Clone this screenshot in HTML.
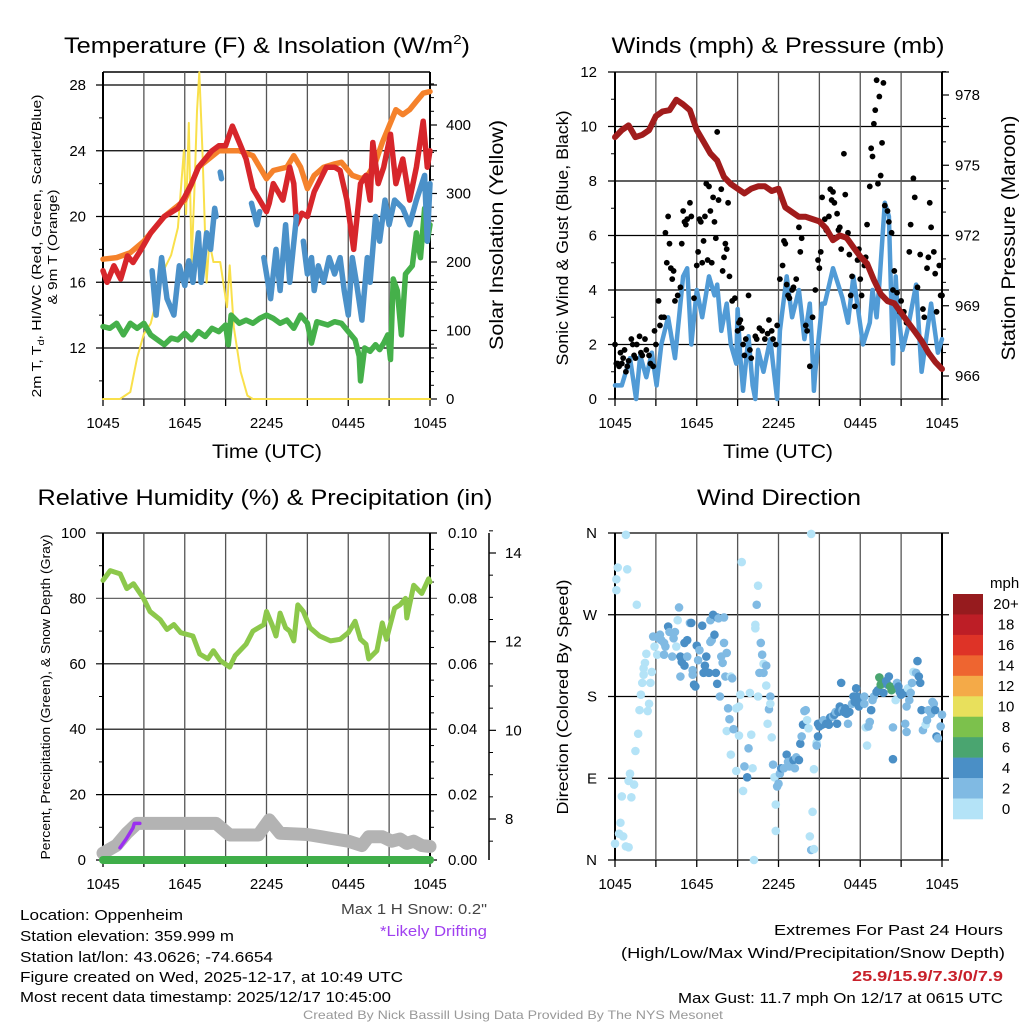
<!DOCTYPE html>
<html><head><meta charset="utf-8"><style>
html,body{margin:0;padding:0;background:#fff;}
svg{display:block;font-family:"Liberation Sans",Arial,sans-serif;}
</style></head><body>
<svg id="fig" width="1024" height="1024" viewBox="0 0 1024 1024" xmlns="http://www.w3.org/2000/svg">
<rect x="0" y="0" width="1024" height="1024" fill="#fff"/>
<g id="tl"></g>
<g id="tr"></g>
<g id="bl"></g>
<g id="br"></g>
<g id="txt">
<text x="267" y="53" font-size="22" text-anchor="middle" textLength="406" lengthAdjust="spacingAndGlyphs">Temperature (F) &amp; Insolation (W/m<tspan font-size="13" dy="-9">2</tspan><tspan dy="9">)</tspan></text>
<text x="778" y="53" font-size="22" text-anchor="middle" textLength="333" lengthAdjust="spacingAndGlyphs">Winds (mph) &amp; Pressure (mb)</text>
<text x="265" y="505" font-size="22" text-anchor="middle" textLength="455" lengthAdjust="spacingAndGlyphs">Relative Humidity (%) &amp; Precipitation (in)</text>
<text x="779" y="505" font-size="22" text-anchor="middle" textLength="164" lengthAdjust="spacingAndGlyphs">Wind Direction</text>
<text x="267" y="458" font-size="19" text-anchor="middle" textLength="110" lengthAdjust="spacingAndGlyphs">Time (UTC)</text>
<text x="778" y="458" font-size="19" text-anchor="middle" textLength="110" lengthAdjust="spacingAndGlyphs">Time (UTC)</text>
<text transform="translate(41,246) rotate(-90)" font-size="13" text-anchor="middle" textLength="303" lengthAdjust="spacingAndGlyphs">2m T, T<tspan font-size="9" dy="3">d</tspan><tspan dy="-3">, HI/WC (Red, Green, Scarlet/Blue)</tspan></text>
<text transform="translate(57,247) rotate(-90)" font-size="13" text-anchor="middle" textLength="115" lengthAdjust="spacingAndGlyphs">&amp; 9m T (Orange)</text>
<text transform="translate(503,235) rotate(-90)" font-size="19" text-anchor="middle" textLength="230" lengthAdjust="spacingAndGlyphs">Solar Insolation (Yellow)</text>
<text transform="translate(568,238) rotate(-90)" font-size="17" text-anchor="middle" textLength="255" lengthAdjust="spacingAndGlyphs">Sonic Wind &amp; Gust (Blue, Black)</text>
<text transform="translate(1015,238) rotate(-90)" font-size="19" text-anchor="middle" textLength="245" lengthAdjust="spacingAndGlyphs">Station Pressure (Maroon)</text>
<text transform="translate(50,697) rotate(-90)" font-size="13" text-anchor="middle" textLength="325" lengthAdjust="spacingAndGlyphs">Percent, Precipitation (Green), &amp; Snow Depth (Gray)</text>
<text transform="translate(568,697) rotate(-90)" font-size="16" text-anchor="middle" textLength="235" lengthAdjust="spacingAndGlyphs">Direction (Colored By Speed)</text>
<g font-size="15">
<text x="20" y="920" textLength="163" lengthAdjust="spacingAndGlyphs">Location: Oppenheim</text>
<text x="20" y="941" textLength="214" lengthAdjust="spacingAndGlyphs">Station elevation: 359.999 m</text>
<text x="20" y="962" textLength="253" lengthAdjust="spacingAndGlyphs">Station lat/lon: 43.0626; -74.6654</text>
<text x="20" y="982" textLength="383" lengthAdjust="spacingAndGlyphs">Figure created on Wed, 2025-12-17, at 10:49 UTC</text>
<text x="20" y="1002" textLength="371" lengthAdjust="spacingAndGlyphs">Most recent data timestamp: 2025/12/17 10:45:00</text>
</g>
<text x="341" y="914" font-size="15" fill="#444" textLength="146" lengthAdjust="spacingAndGlyphs">Max 1 H Snow: 0.2"</text>
<text x="380" y="936" font-size="15" fill="#a040f0" textLength="107" lengthAdjust="spacingAndGlyphs">*Likely Drifting</text>
<text x="1003" y="935" font-size="15" text-anchor="end" textLength="229" lengthAdjust="spacingAndGlyphs">Extremes For Past 24 Hours</text>
<text x="1005" y="958" font-size="15" text-anchor="end" textLength="384" lengthAdjust="spacingAndGlyphs">(High/Low/Max Wind/Precipitation/Snow Depth)</text>
<text x="1003" y="981" font-size="15" font-weight="bold" fill="#c8202a" text-anchor="end" textLength="151" lengthAdjust="spacingAndGlyphs">25.9/15.9/7.3/0/7.9</text>
<text x="1003" y="1003" font-size="15" text-anchor="end" textLength="325" lengthAdjust="spacingAndGlyphs">Max Gust: 11.7 mph On 12/17 at 0615 UTC</text>
<text x="513" y="1019" font-size="12" fill="#999" text-anchor="middle" textLength="420" lengthAdjust="spacingAndGlyphs">Created By Nick Bassill Using Data Provided By The NYS Mesonet</text>
</g>
</svg>
<script>
// ---------- data ----------
const timeTickLabels = ["1045","1645","2245","0445","1045"];
const timeTickHours = [0,6,12,18,24];
// Temperature panel
const redHours = [0,0.3,0.8,1.3,1.8,2.2,2.8,3.5,4.5,5.5,6,6.5,7,7.5,8,8.5,9,9.5,10,10.5,11,11.5,12,12.2,12.5,13.2,13.7,14.0,14.2,14.6,15.0,15.5,16.4,17.0,17.4,17.9,18.4,18.9,19.3,19.6,19.8,20.2,20.6,21.1,21.5,22.0,22.5,23.0,23.5,23.8,24];
const redTemp = [16.7,16.0,17.0,16.2,17.6,17.2,18.0,19.0,20.0,20.5,21.2,22.0,23.0,23.5,24.0,24.3,24.3,25.5,24.5,23.5,21.7,21.0,20.3,20.8,22.0,21.0,23.0,22.0,19.5,20.2,20.0,21.5,23.0,23.0,22.8,21.0,18.0,22.0,22.5,21.0,24.5,22.0,23.0,25.0,22.0,23.5,21.0,23.0,25.8,23.0,24.0];
const orangeHours = [0,1,2,3,4.5,6,7,8.5,10,11,12,12.5,13.5,14,14.5,15,15.5,16.2,17,17.5,18.3,19,19.5,20,20.5,21,21.5,22,22.5,23,23.5,24];
const orangeTemp = [17.4,17.5,17.8,18.5,20.0,21.0,23.0,24.0,24.0,23.7,22.3,22.8,23.0,23.7,23.0,21.7,22.5,23.0,23.2,23.3,22.5,22.3,22.6,23.3,24.5,25.5,26.5,26.2,26.5,27.0,27.5,27.6];
const blueHours = [3.6,3.9,4.3,4.7,5.2,5.6,6.0,6.3,6.6,7.0,7.2,7.6,7.9,8.2,8.3,null,8.6,8.7,null,10.9,11.3,11.5,null,11.8,12.3,12.7,13.0,13.4,13.7,14.2,null,14.7,15.0,15.3,15.5,15.8,16.2,16.6,17.0,17.4,17.7,18.0,18.3,18.6,19.0,19.4,19.6,20.0,20.3,20.7,21.0,21.4,22.0,22.5,23.0,23.6,23.8,24.0];
const blueTemp = [16.7,14.0,17.5,15.0,14.0,17.0,15.8,17.3,16.0,19.0,16.0,19.0,18.0,20.5,20.0,null,22.7,22.3,null,20.8,19.5,20.3,null,17.5,15.0,18.0,15.5,19.5,16.0,20.0,null,18.5,16.5,17.5,15.5,17.0,16.0,17.5,16.5,17.5,15.5,14.0,17.5,16.0,13.7,17.5,16.0,20.0,18.5,21.0,19.5,21.0,20.5,19.5,21.0,22.5,18.5,22.0];
const greenHours = [0,0.5,1,1.5,2,2.5,3,3.5,4,4.5,5,5.5,6,6.5,7,7.5,8,8.5,9,9.2,9.4,10,10.5,11,11.5,12,12.5,13,13.5,14,14.5,15,15.3,15.7,16.5,17,17.5,18,18.5,18.8,18.9,19.2,19.6,20,20.3,20.6,20.9,21.1,21.3,21.6,21.9,22.2,22.7,23,23.3,23.6,23.8,24];
const greenTemp = [13.3,13.2,13.5,12.8,13.5,13.2,13.5,12.8,12.5,12.2,12.6,12.5,12.9,12.5,13.0,12.7,13.2,13.0,13.4,12.2,14.0,13.5,13.7,13.5,13.8,14.0,13.8,13.5,13.7,13.2,14.0,13.5,12.3,13.6,13.4,13.6,13.5,13.0,12.5,11.5,10.0,12.0,11.8,12.2,11.9,12.3,12.8,11.3,16.2,15.5,12.8,16.5,17.0,19.0,17.5,20.5,18.5,19.5];
const solarHours = [0,1.25,2,2.5,3,3.5,4,4.5,5,5.5,5.94,6.1,6.3,6.5,6.7,6.9,7.07,7.3,7.6,7.8,8.1,8.6,9.1,9.3,9.6,10.1,10.6,11,24];
const solarVals = [0,0,10,60,95,110,150,190,210,250,363,270,403,200,300,420,477,360,170,230,200,200,134,195,105,40,5,0,0];
const tempTicks = [12,16,20,24,28];
const solarTicks = [0,100,200,300,400];
// Wind panel
const pressHours = [0,0.5,1,1.5,2,2.5,3,3.5,4,4.5,5,5.5,6,6.5,7,7.5,8,8.5,9,9.5,10,10.5,11,11.5,12,12.5,13,13.5,14,14.5,15,15.5,16,16.5,17,17.5,18,18.5,19,19.5,20,20.5,21,21.5,22,22.5,23,23.5,24];
const pressVals = [976.2,976.5,976.7,976.2,976.3,976.5,977.1,977.3,977.35,977.8,977.6,977.35,976.5,976.0,975.5,975.2,974.5,974.2,974.0,973.8,974.0,974.1,974.1,973.9,974.0,973.2,973.0,972.8,972.8,972.7,972.6,972.3,971.8,972.0,971.9,971.5,971.1,970.8,970.1,969.5,969.2,969.1,968.7,968.3,967.9,967.5,967.0,966.6,966.3];
const windHours = [0,0.5,1.1,1.55,1.85,2.3,2.7,3.05,3.4,3.9,4.4,4.8,5.0,5.3,5.6,6.0,6.4,6.9,7.3,7.5,7.8,8.2,8.5,8.9,9.0,9.2,9.4,9.8,10.1,10.3,10.5,10.9,11.4,11.6,11.9,12.1,12.6,13.0,13.5,13.9,14.3,14.5,14.6,14.7,15.2,15.4,16.0,16.7,17.1,17.5,18.2,18.7,18.9,19.2,19.4,19.8,20.1,20.4,20.6,20.7,21.1,21.5,22.1,22.5,23.2,23.7,24];
const windVals = [0.5,0.5,1.5,0.0,1.6,0.8,1.7,0.5,2.0,3.0,1.5,3.5,4.5,4.8,2.0,4.0,3.0,4.5,3.8,4.2,2.5,3.5,2.0,1.3,3.3,1.5,0.3,2.3,0.5,0.0,1.8,1.0,2.2,1.3,0.0,2.5,4.5,3.0,4.0,2.2,3.5,1.5,0.3,1.0,3.5,3.5,4.8,3.7,2.8,4.5,2.0,2.8,4.0,3.0,4.2,7.2,6.7,1.3,4.5,3.6,1.8,2.6,4.2,1.0,3.5,1.7,2.2];
const gustHours = [0,0.1,0.2,0.3,0.4,0.5,0.6,0.7,0.8,0.9,1.0,1.2,1.3,1.4,1.5,1.6,1.8,1.9,2.0,2.2,2.3,2.5,2.6,2.8,2.9,3.0,3.2,3.3,3.4,3.6,3.7,3.8,3.9,4.0,4.1,4.2,4.3,4.4,4.6,4.8,4.9,5.0,5.1,5.2,5.3,5.5,5.6,5.8,6.0,6.1,6.2,6.3,6.4,6.5,6.6,6.7,6.8,6.9,7.0,7.1,7.2,7.3,7.4,7.5,7.6,7.8,7.9,8.0,8.1,8.2,8.3,8.4,8.6,8.8,9.0,9.1,9.2,9.3,9.4,9.5,9.6,9.8,9.9,10.0,10.3,10.4,10.6,10.8,11.0,11.2,11.3,11.5,11.6,11.8,11.9,12.1,12.3,12.4,12.5,12.6,12.7,12.8,13.0,13.1,13.3,13.5,13.6,13.7,14.0,14.1,14.3,14.5,14.7,14.9,15.0,15.1,15.2,15.4,15.5,15.7,15.8,15.9,16.0,16.1,16.3,16.4,16.5,16.6,16.8,16.9,17.0,17.1,17.2,17.3,17.4,17.6,17.8,17.9,18.0,18.1,18.3,18.4,18.5,18.7,18.8,18.9,19.0,19.1,19.2,19.3,19.4,19.5,19.6,19.7,19.8,20.0,20.1,20.3,20.4,20.5,20.7,20.9,21.0,21.2,21.4,21.6,21.7,21.9,22.0,22.2,22.4,22.6,22.7,22.9,23.0,23.1,23.2,23.4,23.5,23.6,23.8,23.9,24.0];
const gustVals = [2.0,1.3,1.3,1.2,1.7,1.3,1.5,1.8,1.0,1.2,1.4,2.2,2.0,1.6,1.5,2.0,2.3,1.7,1.6,2.2,1.8,1.6,1.3,1.2,2.5,2.0,3.6,2.7,3.0,3.0,6.1,5.0,6.7,5.7,4.8,4.4,4.7,3.6,3.8,4.1,5.7,6.9,6.5,6.4,6.6,7.2,6.7,3.7,4.9,5.4,6.6,6.5,5.0,5.8,6.7,7.9,5.1,7.8,6.9,5.0,7.4,6.5,5.9,9.8,7.3,7.7,4.7,5.2,5.7,5.5,7.2,4.5,3.6,3.7,2.5,2.8,2.9,2.6,2.0,1.6,2.2,3.8,1.8,1.5,2.3,2.2,2.6,2.5,2.2,2.4,2.9,2.5,2.2,2.0,2.7,4.4,4.9,5.8,5.7,4.2,3.8,3.7,4.0,4.1,4.4,6.3,5.4,5.9,2.7,2.5,1.2,3.0,4.0,5.1,4.8,5.4,7.4,6.6,6.2,6.7,7.7,7.3,7.6,7.2,6.8,6.2,6.3,5.5,9.0,7.5,5.9,6.1,5.3,3.8,4.5,3.4,5.1,5.5,4.4,3.8,4.9,5.2,6.4,7.8,9.2,8.9,10.1,10.6,11.7,7.9,11.1,8.2,9.4,11.6,7.1,6.9,6.5,6.1,4.0,4.7,3.9,3.2,3.6,3.2,2.8,5.4,6.4,8.1,7.4,4.1,5.3,3.3,3.0,4.8,5.2,7.2,6.3,5.4,4.6,3.2,4.9,3.8,3.8];
const windTicks = [0,2,4,6,8,10,12];
const pressTicks = [966,969,972,975,978];
// Humidity panel
const rhHours = [0,0.53,1.26,1.75,2.24,2.97,3.45,4.2,4.7,5.2,5.7,6.6,7.1,7.7,8.1,8.6,9.3,9.7,10.5,11.0,11.8,12.0,12.4,12.7,13.0,13.4,13.7,14.0,14.3,14.7,15.2,15.9,16.7,17.4,18.0,18.5,18.9,19.3,19.5,20.1,20.5,20.8,21.4,21.8,22.2,22.3,22.8,23.4,23.9,24];
const rhVals = [85.5,88.5,87.5,83,84.5,80,76,73.5,70.5,72,69.5,68.5,63,61.5,64,61,59,62.5,66,70,72,76,72,68.5,75.5,71,70,67,78,76,71,68.5,67,67.5,69.5,73,67.5,66,61.5,64,72.5,67.5,77,78,80,74,84,81.5,86,85];
const snowHours = [0,1.0,1.75,2.5,8.3,9.3,11.4,12.2,13.0,15,16,17,18,19,19.5,20.5,21.2,21.8,22.3,22.8,23.4,24];
const snowVals = [7.23,7.41,7.68,7.9,7.9,7.64,7.64,7.98,7.68,7.65,7.6,7.55,7.5,7.4,7.6,7.6,7.5,7.55,7.45,7.5,7.4,7.38];
const driftHours = [1.25,1.7,2.2,2.3,2.7];
const driftVals = [7.35,7.55,7.8,7.9,7.9];
const precipHours = [0,24];
const precipVals = [0,0];
const rhTicks = [0,20,40,60,80,100];
const precipTickLabels = ["0.00","0.02","0.04","0.06","0.08","0.10"];
const snowTicks = [8,10,12,14];
// Wind direction panel
const dirLabels = ["N","E","S","W","N"];
const dirTicks = [0,90,180,270,360];
const wdHours = [0,0.1,0.1,0.2,0.3,0.4,0.5,0.6,0.8,0.9,0.8,1.0,1.0,1.1,1.2,1.4,1.5,1.6,1.7,1.8,1.9,2.0,2.1,2.1,2.2,2.3,2.4,2.5,2.6,2.7,2.8,2.9,3.1,3.2,3.3,3.4,3.6,3.7,3.6,3.9,4.0,4.2,4.3,4.4,4.5,4.6,4.7,4.8,4.8,4.9,5.1,5.1,5.3,5.3,5.5,5.6,5.7,5.7,5.8,5.9,6.0,6.1,6.2,6.4,6.5,6.6,6.7,6.7,6.9,7.0,7.0,7.1,7.2,7.3,7.4,7.5,7.5,7.6,7.7,7.8,7.9,8.0,8.0,8.1,8.2,8.3,8.4,8.5,8.6,8.2,8.7,8.5,8.9,8.9,9.1,9.1,9.2,9.3,9.4,9.5,9.7,9.8,9.9,10.0,10.1,10.2,10.3,10.3,10.4,10.5,10.5,10.6,10.7,10.8,10.9,10.9,11.1,11.1,11.2,11.3,11.4,11.4,11.5,11.6,11.7,11.8,11.9,11.8,12.0,12.1,12.2,12.4,12.6,12.7,12.8,13.1,13.2,13.3,13.5,13.6,13.7,13.8,13.9,14.0,14.1,14.2,14.3,14.4,14.5,14.6,14.4,14.6,14.8,14.8,14.9,14.9,15.0,15.2,15.3,15.5,15.7,15.8,16.0,16.1,16.2,16.3,16.4,16.5,16.6,16.7,16.8,16.9,17.0,17.1,17.2,17.4,17.5,17.6,17.7,17.8,17.9,18.1,18.3,18.3,18.4,18.5,18.6,18.7,18.8,18.8,18.9,19.0,19.2,19.3,19.4,19.5,19.6,19.7,19.9,20.0,20.1,20.2,20.3,20.4,20.4,20.6,20.7,20.8,20.9,21.0,21.2,21.3,21.4,21.4,21.5,21.6,21.7,21.8,21.9,22.1,22.2,22.3,22.4,22.5,22.6,22.8,22.9,23.0,23.2,23.3,23.4,23.5,23.6,23.7,23.9,24.0];
const wdDir = [18,309,297,322,29,41,70,26,358,320,15,14,87,95,69,83,120,281,139,165,182,195,204,211,217,227,164,172,195,207,246,235,226,244,248,242,239,235,226,257,251,224,244,251,235,264,278,202,224,218,214,239,242,224,261,261,204,209,193,191,236,220,231,258,206,214,224,207,206,264,240,242,270,248,206,194,267,266,180,224,217,267,239,202,228,167,155,202,200,142,144,116,98,167,169,137,182,328,76,103,91,123,184,138,101,0,255,259,281,302,180,206,239,226,216,206,214,192,150,166,180,172,135,105,91,61,81,32,84,95,101,101,116,108,103,110,101,113,110,128,136,149,164,165,154,145,26,11,53,12,359,100,129,126,150,136,147,149,154,150,149,157,158,160,163,150,163,169,195,165,163,167,161,150,163,172,180,174,189,180,169,174,180,172,146,126,147,152,165,165,176,180,185,187,201,193,195,184,197,193,202,191,187,111,146,176,195,191,185,182,184,150,141,169,189,176,184,195,207,206,219,202,195,165,143,149,154,165,161,174,172,165,136,134,147,160];
const wdSpeed = [1,1,1,1,1,1,1,1,1,1,1,1,1,1,1,1,1,1,1,1,1,1,1,1,1,1,1,1,1,1,3,1,1,3,3,3,3,3,3,5,3,3,3,3,1,1,3,3,5,5,5,5,5,3,3,5,3,3,5,5,5,3,3,5,5,5,5,5,5,3,3,3,5,5,5,5,5,3,3,3,3,3,3,3,3,3,3,1,3,1,3,1,1,1,1,1,1,1,1,3,5,3,1,1,1,1,1,1,3,1,1,3,3,3,1,3,3,1,1,3,3,1,1,3,1,1,3,1,3,3,5,3,5,3,3,5,3,3,5,5,3,5,3,3,1,1,1,3,1,1,1,1,1,3,5,5,5,5,3,5,5,5,3,5,3,5,5,5,5,3,5,5,5,3,5,3,5,5,5,5,5,5,3,3,1,1,3,3,3,5,3,3,5,5,7,7,7,5,5,5,5,7,7,5,3,1,3,5,5,5,5,3,3,3,1,3,3,3,1,3,5,5,5,5,3,1,3,3,3,3,3,5,5,3,3,3,5,3];
const cbLabels = ["20+","18","16","14","12","10","8","6","4","2","0"];
const cbColors = ["#961b1e","#bd1e26","#de3327","#ee6530","#f4aa48","#e8e05c","#7cc14c","#4aa570","#4a8fc6","#80bae3","#b4e3f7"];

// ---------- helpers ----------
const NS = "http://www.w3.org/2000/svg";
function mk(parent, tag, attrs, text){
  const el = document.createElementNS(NS, tag);
  for (const k in attrs) el.setAttribute(k, attrs[k]);
  if (text !== undefined) el.textContent = text;
  parent.appendChild(el);
  return el;
}
const PW = 327;
function xAt(L, h){ return L + h * PW / 24; }
function linear(d0, d1, r0, r1){ return v => r0 + (v - d0) * (r1 - r0) / (d1 - d0); }
function pathFrom(hours, vals, xf, yf){
  let d = "", pen = false;
  for (let i = 0; i < hours.length; i++){
    if (hours[i] === null || vals[i] === null){ pen = false; continue; }
    d += (pen ? "L" : "M") + xf(hours[i]).toFixed(1) + "," + yf(vals[i]).toFixed(1);
    pen = true;
  }
  return d;
}
function timeAxis(g, L, top, bottom){
  for (let k = 0; k <= 8; k++){
    const x = xAt(L, k * 3);
    const gl = mk(g, "line", {x1:x, y1:top, x2:x, y2:bottom, stroke: (k===0||k===8)?"#000":"#555", "stroke-width": (k===0||k===8)?2:1.3});
    
    
    const tk = mk(g, "line", {x1:x, y1:bottom, x2:x, y2:bottom+7, stroke:"#000", "stroke-width":1.3});
    
    
  }
  for (let i = 0; i < timeTickHours.length; i++){
    const t = mk(g, "text", {x:xAt(L, timeTickHours[i]), y:bottom+29, "font-size":15, "text-anchor":"middle"}, timeTickLabels[i]);
    
    
  }
}
function hGrid(g, L, y, name){
  const l = mk(g, "line", {x1:L-7, y1:y, x2:L+PW+7, y2:y, stroke:"#000", "stroke-width":1.2});
  
  
}
function leftLabel(g, x, y, s, name){
  const t = mk(g, "text", {x:x, y:y+5, "font-size":15, "text-anchor":"end"}, s);
  
  
}
function rightLabel(g, x, y, s, name){
  const t = mk(g, "text", {x:x, y:y+5, "font-size":15, "text-anchor":"start"}, s);
  
  
}
function minorTick(g, x, y, dir){
  const l = mk(g, "line", {x1:x, y1:y, x2:x+dir*4, y2:y, stroke:"#000", "stroke-width":1});
  
  
}
function line(g, d, color, w, name){
  const p = mk(g, "path", {d:d, fill:"none", stroke:color, "stroke-width":w, "stroke-linejoin":"round", "stroke-linecap":"round"});
  
  
  return p;
}

// ---------- Temperature panel ----------
(function(){
  const g = document.getElementById("tl");
  const L = 103, top = 72, bottom = 399;
  const yT = linear(28, 12, 85, 348);
  const yS = linear(0, 400, 399, 125);
  const xf = h => xAt(L, h);
  mk(g, "line", {x1:L, y1:top, x2:L+PW, y2:top, stroke:"#000", "stroke-width":1.5});
  tempTicks.forEach(t => { hGrid(g, L, yT(t), 'temp-gridline'); leftLabel(g, 86, yT(t), String(t), 'temp-tick-label'); });
  for (let t = 10; t <= 26; t += 4) minorTick(g, L, yT(t), -1);
  solarTicks.forEach(s => rightLabel(g, 446, yS(s), String(s), 'solar-tick-label'));
  for (let s = 20; s <= 460; s += 20) if (s % 100) minorTick(g, L+PW, yS(s), 1);
  solarTicks.forEach(s => { const l = mk(g,"line",{x1:L+PW,y1:yS(s),x2:L+PW+7,y2:yS(s),stroke:"#000","stroke-width":1.2});   });
  mk(g, "line", {x1:L, y1:bottom, x2:L+PW, y2:bottom, stroke:"#000", "stroke-width":1});
  timeAxis(g, L, top, bottom);
  line(g, pathFrom(solarHours, solarVals, xf, yS), "#f9e04b", 2, 'solar-line');
  line(g, pathFrom(orangeHours, orangeTemp, xf, yT), "#f5822b", 5.5, 'temp-9m-line');
  line(g, pathFrom(greenHours, greenTemp, xf, yT), "#45b04a", 5.5, 'dewpoint-line');
  line(g, pathFrom(redHours, redTemp, xf, yT), "#d7262b", 5.5, 'temp-2m-line');
  line(g, pathFrom(blueHours, blueTemp, xf, yT), "#4b91c9", 5.5, 'windchill-line');
})();

// ---------- Wind panel ----------
(function(){
  const g = document.getElementById("tr");
  const L = 615, top = 72, bottom = 399;
  const yW = linear(0, 12, 399, 72);
  const yP = linear(966, 978, 376, 95);
  const xf = h => xAt(L, h);
  windTicks.forEach(t => { hGrid(g, L, yW(t), 'wind-gridline'); leftLabel(g, 597, yW(t), String(t), 'wind-tick-label'); });
  for (let t = 1; t <= 11; t += 2) minorTick(g, L, yW(t), -1);
  pressTicks.forEach(p => { rightLabel(g, 955, yP(p), String(p), 'pressure-tick-label'); const l = mk(g,"line",{x1:L+PW,y1:yP(p),x2:L+PW+7,y2:yP(p),stroke:"#000","stroke-width":1.2});   });
  for (let p = 965; p <= 979; p++) if ((p - 966) % 3) minorTick(g, L+PW, yP(p), 1);
  timeAxis(g, L, top, bottom);
  line(g, pathFrom(windHours, windVals, xf, yW), "#519bd6", 4.5, 'sonic-wind-line');
  for (let i = 0; i < gustHours.length; i++){
    const c = mk(g, "circle", {cx:xf(gustHours[i]), cy:yW(gustVals[i]), r:2.9, fill:"#000"});
    
    
  }
  line(g, pathFrom(pressHours, pressVals, xf, yP), "#a11c1c", 6, 'pressure-line');
})();

// ---------- Humidity panel ----------
(function(){
  const g = document.getElementById("bl");
  const L = 103, top = 533, bottom = 860;
  const yR = linear(0, 100, 860, 533);
  const ySn = linear(8, 14, 819, 553);
  const xf = h => xAt(L, h);
  rhTicks.forEach((t, i) => {
    const l = mk(g, "line", {x1:L-7, y1:yR(t), x2:L+PW+7, y2:yR(t), stroke: t===80 ? "#666" : "#000", "stroke-width":1.2});
    
    
    leftLabel(g, 86, yR(t), String(t), 'humidity-tick-label');
    rightLabel(g, 448, yR(t), precipTickLabels[i], 'precip-tick-label');
  });
  for (let t = 10; t <= 90; t += 20) minorTick(g, L, yR(t), -1);
  for (let t = 5; t <= 95; t += 5) if (t % 20) minorTick(g, L+PW, yR(t), 1);
  timeAxis(g, L, top, bottom);
  const ax = mk(g, "line", {x1:489, y1:533, x2:489, y2:860, stroke:"#000", "stroke-width":1.5});
  
  
  snowTicks.forEach(s => { const l = mk(g,"line",{x1:489,y1:ySn(s),x2:496,y2:ySn(s),stroke:"#000","stroke-width":1.2});   rightLabel(g, 505, ySn(s), String(s), 'snow-tick-label'); });
  for (let s = 7.5; s <= 14.5; s += 0.5) if (s % 2) minorTick(g, 489, ySn(s), 1);
  line(g, pathFrom(rhHours, rhVals, xf, yR), "#8cc84b", 5, 'humidity-line');
  line(g, pathFrom(snowHours, snowVals, xf, ySn), "#b3b3b3", 13, 'snow-depth-line');
  line(g, pathFrom(driftHours, driftVals, xf, ySn), "#9b30f0", 3.5, 'drifting-line');
  line(g, pathFrom(precipHours, precipVals, xf, yR), "#3fae49", 8, 'precip-line');
})();

// ---------- Wind direction panel ----------
(function(){
  const g = document.getElementById("br");
  const L = 615, top = 533, bottom = 860;
  const yD = linear(0, 360, 860, 533);
  const xf = h => xAt(L, h);
  dirTicks.forEach((d, i) => { hGrid(g, L, yD(d), 'direction-gridline'); leftLabel(g, 597, yD(d), dirLabels[i], 'direction-tick-label'); });
  timeAxis(g, L, top, bottom);
  function colorFor(s){
    const bin = Math.min(10, Math.floor(s / 2));
    return cbColors[10 - bin];
  }
  for (let i = 0; i < wdHours.length; i++){
    const c = mk(g, "circle", {cx:xf(wdHours[i]), cy:yD(wdDir[i]), r:4.3, fill:colorFor(wdSpeed[i])});
    
    
  }
  const t = mk(g, "text", {x:990, y:588, "font-size":15}, "mph");
  
  
  const h = 225 / 11;
  for (let i = 0; i < 11; i++){
    const r = mk(g, "rect", {x:953, y:594 + i*h, width:30, height:h+0.3, fill:cbColors[i]});
    
    
    const lb = mk(g, "text", {x:1006, y:594 + i*h + h/2 + 5, "font-size":15, "text-anchor":"middle"}, cbLabels[i]);
    
    
  }
})();
</script>
</body></html>
